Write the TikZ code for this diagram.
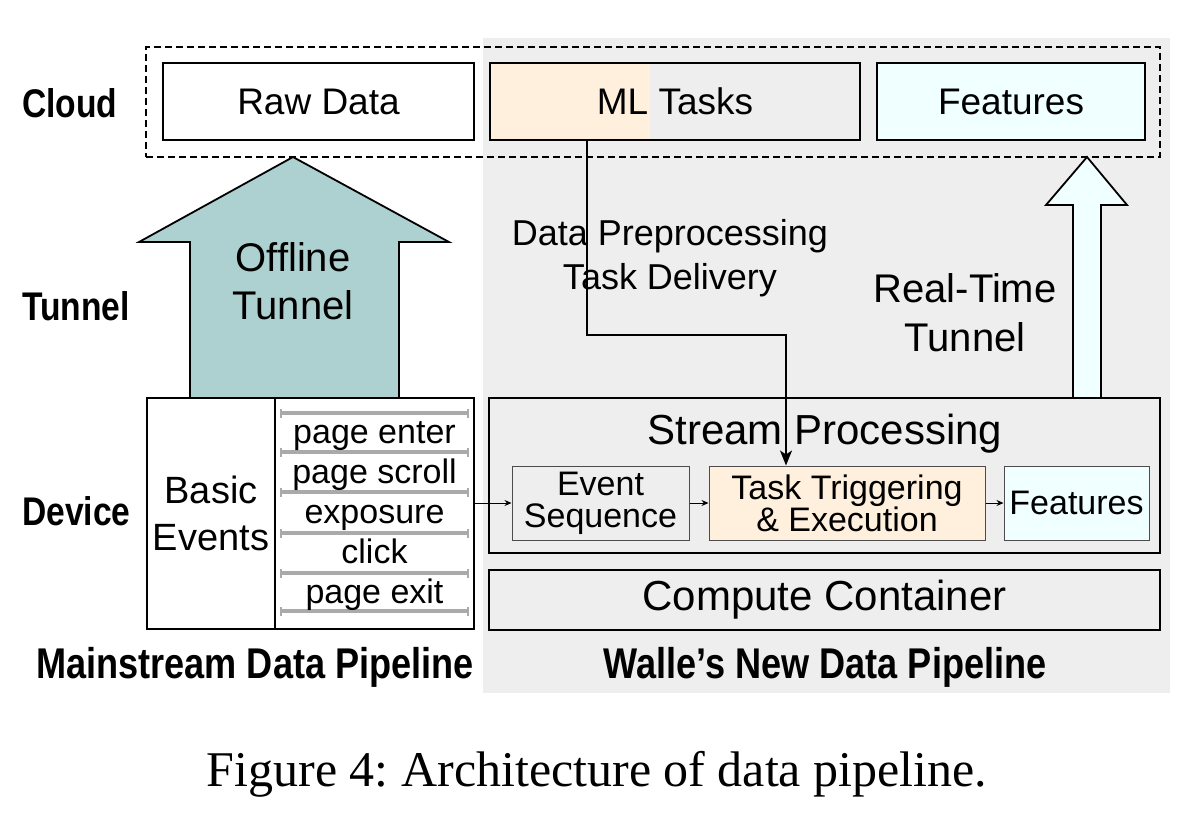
\documentclass[tikz,border=0pt]{standalone}
\usepackage{fontspec}
\setmainfont{Liberation Sans}
\newfontfamily\capfont{Liberation Serif}
\newfontfamily\condfont{Liberation Sans}[FakeStretch=0.84]
\usetikzlibrary{arrows.meta, positioning, calc}
\definecolor{walle}{HTML}{EEEEEE}
\definecolor{offteal}{HTML}{ADD0D0}
\definecolor{mlorange}{HTML}{FFF0DE}
\definecolor{featcyan}{HTML}{F0FFFF}
\definecolor{evbargray}{HTML}{AAAAAA}
\frenchspacing

\begin{document}
\begin{tikzpicture}[
    x=1pt, y=-1pt,
    every node/.style={inner sep=0pt},
    f34/.style={font=\fontsize{34}{32}\selectfont},
    f37/.style={font=\fontsize{37}{44}\selectfont},
    f38/.style={font=\fontsize{38}{47}\selectfont},
    f40/.style={font=\fontsize{40}{48}\selectfont},
    f42/.style={font=\fontsize{42}{50}\selectfont},
    layer/.style={font=\condfont\fontsize{40}{48}\selectfont\bfseries, anchor=base west},
    pipe/.style={font=\condfont\fontsize{43}{50}\selectfont\bfseries, anchor=base},
    cloudbox/.style={draw, line width=2.3pt, dash pattern=on 7pt off 4pt, minimum width=1014pt, minimum height=110pt},
    topbox/.style={draw, line width=1.4pt, minimum height=77pt, f37},
    devbox/.style={draw, line width=2.2pt, minimum height=231pt},
    strbox/.style={draw, line width=2.4pt, minimum width=671pt},
    inbox/.style={draw=black!70, line width=1pt, minimum height=74pt, f34, align=center},
    tunnel/.style={draw, line width=1.8pt, line join=miter},
    evbar/.style={draw=evbargray, line width=3.2pt, {Bar[width=9pt,line width=2.4pt]}-{Bar[width=9pt,line width=2.4pt]}},
    arr/.style={-{Stealth[length=15pt, width=12pt, inset=4pt]}, line width=1.8pt},
    small arr/.style={-{Stealth[length=7pt, width=6pt]}, line width=0.9pt}
]
\useasboundingbox (0,0) rectangle (1193,820);
\fill[walle] (483,38) rectangle (1170,693);

% cloud layer
\node[cloudbox] (cloud) at (653,102) {};
\node[topbox, minimum width=311pt] (raw) at (318.5,101.5) {Raw Data};
\node[topbox, minimum width=370pt,
      path picture={\fill[mlorange] (path picture bounding box.south west) rectangle ([xshift=160pt]path picture bounding box.north west);}] (ml) at (675,101.5) {ML Tasks};
\node[topbox, fill=featcyan, minimum width=268pt] (cloudfeat) at (1011,101.5) {Features};

% layer names
\node[layer] (lcloud) at (22,117) {Cloud};
\node[layer] (ltunnel) at (22,320) {Tunnel};
\node[layer] (ldevice) at (22,525) {Device};

% tunnels
\draw[tunnel, fill=offteal] (293,157) -- (449,242) -- (399,242) -- (399,398)
    -- (190,398) -- (190,242) -- (139,242) -- cycle;
\node[f40, align=center] (offline) at (293,281) {Offline\\Tunnel};
\draw[tunnel, fill=featcyan] (1087,157) -- (1127,205) -- (1101,205) -- (1101,398)
    -- (1073,398) -- (1073,205) -- (1046,205) -- cycle;
\node[f40, align=center, font=\fontsize{40}{49}\selectfont] (realtime) at (965,313) {Real-Time\\Tunnel};

% device: mainstream pipeline
\node[devbox, minimum width=128pt, f38, align=center] (basic) at (211,513.5) {Basic\\Events};
\node[devbox, minimum width=199pt] (evlist) at (374.5,513.5) {};
\foreach \y in {413,452,492,533,573,611}
    \draw[evbar] (280,\y) -- (469,\y);
\foreach \ev [count=\i] in {page enter, page scroll, exposure, click, page exit}
    \node[f34, anchor=base] (ev\i) at (374.5,403+40*\i) {\ev};

% device: new pipeline
\node[strbox, minimum height=155pt] (stream) at (824.5,475.5) {};
\node[f42, anchor=base] (streamtitle) at (825,444) {Stream Processing};
\node[inbox, fill=walle, minimum width=177pt] (evseq) at (600.5,503) {Event\\Sequence};
\node[inbox, fill=mlorange, minimum width=276pt] (trig) at (847,503) {Task Triggering\\\& Execution};
\node[inbox, fill=featcyan, minimum width=145pt] (feat) at (1076.5,503) {Features};
\node[strbox, minimum height=60pt, f42] (compute) at (824.5,600) {Compute Container};

\draw[small arr] (evlist.east |- evseq.west) -- (evseq.west);
\draw[small arr] (evseq) -- (trig);
\draw[small arr] (trig) -- (feat);

% task delivery
\coordinate (bendA) at (587,335);
\coordinate (bendB) at (786,335);
\draw[arr] (ml.south -| bendA) -- (bendA) -- (bendB) -- (trig.north -| bendB);
\node[f37, align=center, font=\fontsize{36}{44}\selectfont] (delivery) at (670,258) {Data Preprocessing\\Task Delivery};

% pipeline names and caption
\node[pipe] (mainpipe) at (255,678) {Mainstream Data Pipeline};
\node[pipe] (newpipe) at (825,678) {Walle’s New Data Pipeline};
\node[font=\capfont\fontsize{50}{60}\selectfont, anchor=base] (caption) at (597,786) {Figure 4: Architecture of data pipeline.};
\end{tikzpicture}
\end{document}
